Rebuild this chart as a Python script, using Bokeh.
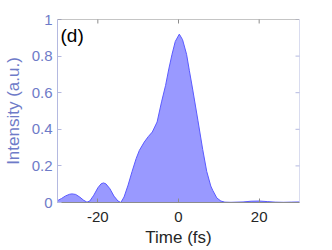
import math
from bokeh.plotting import figure
from bokeh.models import LinearAxis, FixedTicker, Label, ColumnDataSource, Span
from bokeh.embed import file_html
from bokeh.resources import INLINE

# Data
time_fs = [-30, -29, -28, -27, -26.4, -25.5, -24.5, -23.5, -22.7, -22, -21, -20, -19.2, -18.6,
           -18, -17, -16, -15, -14.3, -13.5, -12.5, -11.5, -10.5, -9.7, -8.5, -7.5, -6.5, -5.3,
           -4.2, -3.2, -2.4, -1.6, -0.8, 0.2, 1.0, 2.0, 2.7, 3.5, 4.8, 6.0, 7.0, 8.0, 8.5, 9.5,
           10.5, 11.5, 13, 16, 18, 20, 22, 24, 26, 28, 30]
intensity = [0.010, 0.022, 0.036, 0.045, 0.047, 0.044, 0.030, 0.012, 0.002, 0.008, 0.040, 0.080,
             0.102, 0.107, 0.102, 0.075, 0.035, 0.008, 0.0, 0.030, 0.095, 0.170, 0.240, 0.285,
             0.330, 0.360, 0.385, 0.440, 0.550, 0.640, 0.730, 0.810, 0.880, 0.920, 0.890, 0.810,
             0.720, 0.620, 0.450, 0.290, 0.170, 0.090, 0.066, 0.025, 0.008, 0.002, 0.001, 0.003,
             0.007, 0.008, 0.005, 0.002, 0.001, 0.002, 0.003]
zeros = [0.0] * len(time_fs)

x_ticks = [-20, 0, 20]
x_tick_labels = ["-20", "0", "20"]
y_ticks = [0, 0.2, 0.4, 0.6, 0.8, 1]
y_tick_labels = ["0", "0.2", "0.4", "0.6", "0.8", "1"]
x_min, x_max = -30, 30
y_min, y_max = 0, 1

src = ColumnDataSource(dict(t=time_fs, i=intensity, z=zeros))

FONT = "Liberation Sans"
Y_TXT = "#6e7bc8"
Y_LINE = "#b4b9e0"
X_TXT = "#262626"
X_LINE = "#8c8c8c"

p = figure(width=332, height=250, x_range=(x_min, x_max), y_range=(y_min, y_max),
           output_backend="svg", toolbar_location=None,
           x_axis_location=None, y_axis_location=None,
           min_border_left=51, min_border_right=33, min_border_top=19, min_border_bottom=48)
p.grid.visible = False
p.outline_line_color = None
p.background_fill_color = "white"
p.border_fill_color = "white"

p.varea(x="t", y1="z", y2="i", source=src, fill_color="#9999ff", fill_alpha=1.0)
p.line(x="t", y="i", source=src, line_color="#5a5aff", line_width=1)

# box edges (top and right)
p.add_layout(Span(location=y_max, dimension="width", line_color=X_LINE, line_width=1))
p.add_layout(Span(location=x_max, dimension="height", line_color=Y_LINE, line_width=1))
# inward ticks on top and right edges (clipped to the frame)
p.scatter(x=x_ticks, y=[y_max] * len(x_ticks), marker="dash", angle=math.pi / 2, size=8,
          line_color=X_LINE, line_width=1)
p.scatter(x=[x_max] * len(y_ticks), y=y_ticks, marker="dash", size=8,
          line_color=Y_LINE, line_width=1)

xo = {v: s for v, s in zip(x_ticks, x_tick_labels)}
yo = {v: s for v, s in zip(y_ticks, y_tick_labels)}

def style(ax, ticks, overrides, txt, line, tick_standoff, label_standoff):
    ax.ticker = FixedTicker(ticks=ticks)
    ax.major_label_overrides = overrides
    ax.minor_tick_line_color = None
    ax.major_tick_in = 4
    ax.major_tick_out = 0
    ax.axis_line_color = line
    ax.major_tick_line_color = line
    ax.major_label_text_color = txt
    ax.major_label_text_font = FONT
    ax.major_label_standoff = tick_standoff
    ax.major_label_text_font_size = "15px"
    ax.axis_label_text_font = FONT
    ax.axis_label_text_font_size = "17px"
    ax.axis_label_text_font_style = "normal"
    ax.axis_label_text_color = txt
    ax.axis_label_standoff = label_standoff

bx = LinearAxis(axis_label="Time (fs)")
style(bx, x_ticks, xo, X_TXT, X_LINE, 9, 3)
p.add_layout(bx, "below")

ly = LinearAxis(axis_label="Intensity (a.u.)")
style(ly, y_ticks, yo, Y_TXT, Y_LINE, 5, 6)
p.add_layout(ly, "left")

p.add_layout(Label(x=3, y=178, x_units="screen", y_units="screen", text="(d)",
                   text_font=FONT, text_font_size="19px", text_color="black",
                   text_baseline="top"))

open("out.html", "w").write(file_html(p, INLINE))
